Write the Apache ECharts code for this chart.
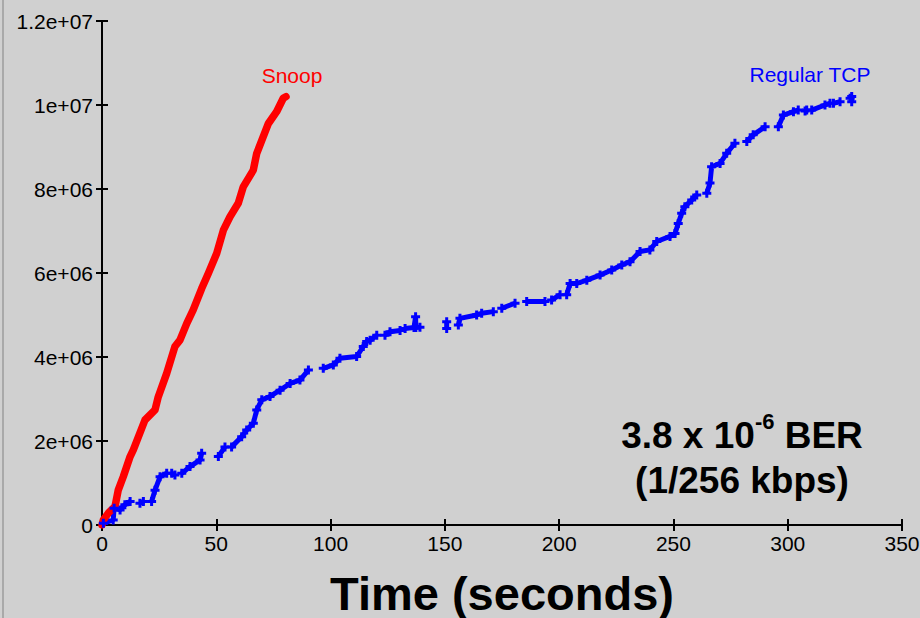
<!DOCTYPE html>
<html>
<head>
<meta charset="utf-8">
<script src="https://cdn.jsdelivr.net/npm/echarts@6/dist/echarts.min.js"></script>
<style>
html,body{margin:0;padding:0;background:#d0d0d0;overflow:hidden;width:920px;height:618px;}
#chart{width:920px;height:618px;overflow:hidden;}
</style>
</head>
<body>
<div id="chart"></div>
<script>
// ---- data (time in seconds, sequence number in bytes) ----
var xTicks = [0, 50, 100, 150, 200, 250, 300, 350];
var yTicks = [0, 2e6, 4e6, 6e6, 8e6, 1e7, 1.2e7];

var snoopTime  = [0, 0.6, 3, 5.7, 7.1, 9.3, 12.3, 13.7, 18.8, 23.2, 24.6, 28.3, 31.9, 34.1, 37.1, 39.9, 43.6, 46.5, 50.2, 53.1, 56.0, 59.6, 61.8, 66.2, 67.7, 72.8, 76.4, 79.3, 80.5];
var snoopBytes = [0, 120000, 300000, 440000, 830000, 1150000, 1630000, 1790000, 2500000, 2740000, 3050000, 3610000, 4250000, 4400000, 4800000, 5120000, 5630000, 5990000, 6470000, 7020000, 7340000, 7660000, 8050000, 8450000, 8850000, 9560000, 9840000, 10160000, 10200000];

// null entries mark gaps in the Regular TCP trace
var tcpTime = [0.6, 4.9, 5.3, 7.9, 10, 12.3, null,
  16.6, 18.1, null,
  21.7, 23.2, 25.4, 28.3, null,
  30.5, 31.9, null,
  34.9, 38.5, 42.9, 43.6, null,
  50.9, 53.8, null,
  56.7, 61.1, 63.3, 66.2, 67.7, 69.9, 73.5, 77.9, 82.3, 86.6, 90.3, null,
  96.8, 101.2, 104.1, 111.4, 114.3, 115.8, 117.3, 120.2, null,
  123.8, 126, 130.4, null,
  132.6, 136.5, 137.2, 137.3, 139.1, null,
  150.8, 150.8, null,
  155.9, 156.6, 163.9, 166.1, 171.2, null,
  174.9, 180.7, null,
  185.8, 193.8, null,
  196.7, 200.4, null,
  203.3, 204.8, 207.7, 212.1, 217.9, 223.0, 227.4, 231.0, 235.4, 239.7, 242.7, 248.5, 250.7, 252.1, 253.6, 255.0, 258.0, 260.2, null,
  264.6, 266.0, 266.7, 270.4, 273.3, 276.9, null,
  282.1, 284.9, 290.1, null,
  295.9, 298.1, 302.5, 304.6, null,
  307.6, 308.3, null,
  310.5, 316.3, 318.5, null,
  320, 322.9, null,
  327.3, 328, 328];
var tcpBytes = [40000, 120000, 400000, 360000, 480000, 560000, null,
  520000, 560000, null,
  560000, 830000, 1150000, 1230000, null,
  1230000, 1190000, null,
  1230000, 1390000, 1550000, 1710000, null,
  1630000, 1860000, null,
  1860000, 2100000, 2260000, 2420000, 2740000, 2980000, 3060000, 3210000, 3370000, 3450000, 3690000, null,
  3730000, 3810000, 3970000, 4010000, 4250000, 4370000, 4400000, 4520000, null,
  4520000, 4600000, 4630000, null,
  4680000, 4700000, 4960000, 4700000, 4710000, null,
  4680000, 4840000, null,
  4760000, 4920000, 5000000, 5040000, 5080000, null,
  5160000, 5280000, null,
  5320000, 5320000, null,
  5360000, 5480000, null,
  5480000, 5750000, 5750000, 5830000, 5950000, 6070000, 6190000, 6270000, 6510000, 6550000, 6750000, 6870000, 6940000, 7180000, 7420000, 7580000, 7740000, 7860000, null,
  7900000, 8140000, 8530000, 8610000, 8850000, 9090000, null,
  9130000, 9290000, 9480000, null,
  9480000, 9760000, 9840000, 9880000, null,
  9860000, 9880000, null,
  9880000, 10000000, 10040000, null,
  10040000, 10080000, null,
  10160000, 10200000, 10080000];

// ---- build ----
function pairs(xs, ys) {
  var out = [];
  for (var i = 0; i < xs.length; i++) {
    if (xs[i] === null || ys[i] === null) out.push(['-', '-']);
    else out.push([xs[i], ys[i]]);
  }
  return out;
}
function sci(v) {
  if (v === 0) return '0';
  var e = Math.floor(Math.log10(v) + 1e-9);
  var m = Number((v / Math.pow(10, e)).toPrecision(6));
  return m + 'e+' + (e < 10 ? '0' + e : e);
}

var FONT = '"Liberation Sans", Arial, sans-serif';
var axisLine = {show: true, lineStyle: {color: '#000', width: 2}};
var tick = {show: true, inside: true, length: 6, lineStyle: {color: '#000', width: 2}};

var chart = echarts.init(document.getElementById('chart'), null, {renderer: 'svg', width: 920, height: 618});
chart.setOption({
  backgroundColor: '#d0d0d0',
  animation: false,
  grid: {left: 102, right: 18, top: 21, bottom: 93, containLabel: false, outerBoundsMode: 'none'},
  xAxis: [{
    type: 'value', position: 'bottom', min: xTicks[0], max: xTicks[xTicks.length - 1], interval: 50,
    axisLine: axisLine, axisTick: tick, splitLine: {show: false},
    axisLabel: {color: '#000', fontSize: 21, fontFamily: FONT, margin: 8, showMaxLabel: true},
    name: 'Time (seconds)', nameLocation: 'middle', nameGap: 43,
    nameTextStyle: {color: '#000', fontSize: 47, fontWeight: 'bold', fontFamily: FONT, lineHeight: 50}
  }, {
    type: 'value', position: 'top', min: xTicks[0], max: xTicks[xTicks.length - 1], interval: 50,
    axisLine: axisLine, axisTick: tick, splitLine: {show: false}, axisLabel: {show: false}
  }],
  yAxis: [{
    type: 'value', position: 'left', min: yTicks[0], max: yTicks[yTicks.length - 1], interval: 2e6,
    axisLine: axisLine, axisTick: tick, splitLine: {show: false},
    axisLabel: {color: '#000', fontSize: 21, fontFamily: FONT, margin: 9, formatter: sci}
  }, {
    type: 'value', position: 'right', min: yTicks[0], max: yTicks[yTicks.length - 1], interval: 2e6,
    axisLine: axisLine, axisTick: tick, splitLine: {show: false}, axisLabel: {show: false}
  }],
  series: [{
    name: 'Regular TCP', type: 'line', xAxisIndex: 0, yAxisIndex: 0,
    data: pairs(tcpTime, tcpBytes), connectNulls: false,
    symbol: 'path://M2,0h2v2h2v2h-2v2h-2v-2h-2v-2h2z', symbolSize: 9, showSymbol: true,
    itemStyle: {color: '#0000ff'}, lineStyle: {color: '#0000ff', width: 5}
  }, {
    name: 'Snoop', type: 'line', xAxisIndex: 0, yAxisIndex: 0,
    data: pairs(snoopTime, snoopBytes), showSymbol: false,
    lineStyle: {color: '#ff0000', width: 7.5, join: 'round', cap: 'round'}
  }],
  graphic: [
    {type: 'rect', left: 2, top: 0, shape: {width: 2, height: 618}, style: {fill: '#a9a9a9'}, silent: true},
    {type: 'text', x: 292, y: 75, style: {text: 'Snoop', fill: '#ff0000', font: '21px ' + FONT, textAlign: 'center', textVerticalAlign: 'middle'}},
    {type: 'text', x: 810, y: 74, style: {text: 'Regular TCP', fill: '#0000ff', font: '21px ' + FONT, textAlign: 'center', textVerticalAlign: 'middle'}},
    {type: 'text', x: 742, y: 432, style: {
      text: '{b|3.8 x 10}{s|-6}{b| BER}', textAlign: 'center', textVerticalAlign: 'middle',
      rich: {
        b: {fontSize: 37, fontWeight: 'bold', fontFamily: FONT, fill: '#000', color: '#000', verticalAlign: 'bottom', lineHeight: 44},
        s: {fontSize: 22, fontWeight: 'bold', fontFamily: FONT, fill: '#000', color: '#000', verticalAlign: 'top', lineHeight: 44, padding: [0, 0, 16, 0]}
      }
    }},
    {type: 'text', x: 742, y: 480, style: {text: '(1/256 kbps)', fill: '#000', font: 'bold 37px ' + FONT, textAlign: 'center', textVerticalAlign: 'middle'}}
  ]
});
</script>
</body>
</html>
